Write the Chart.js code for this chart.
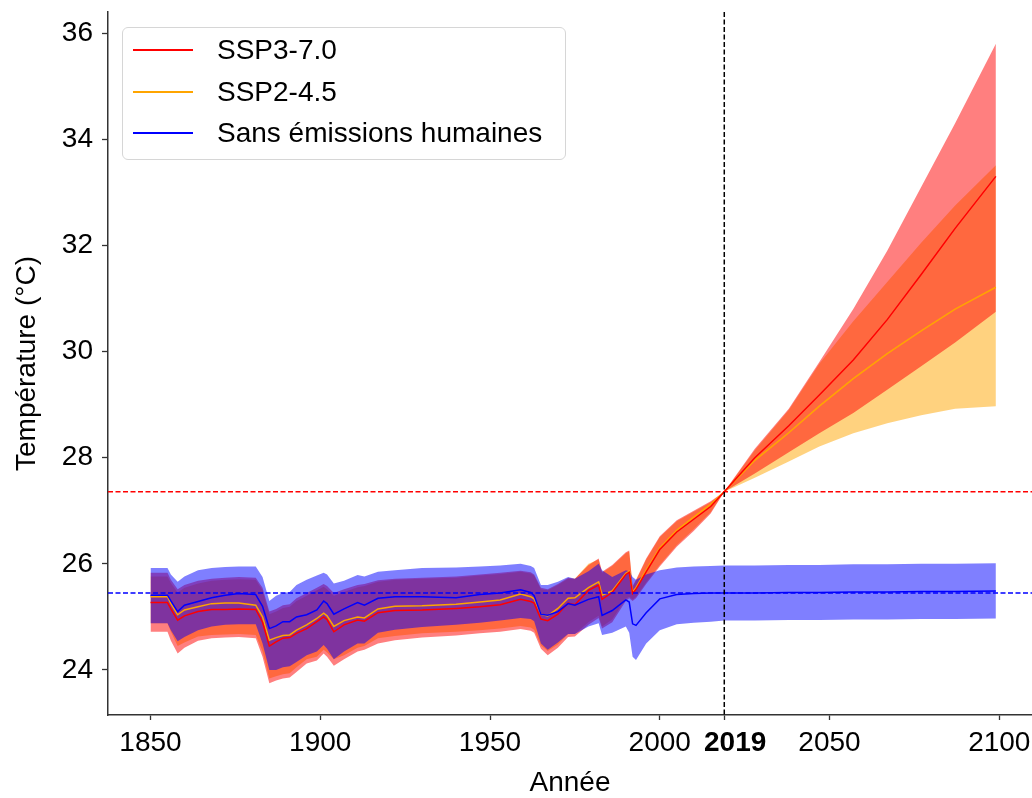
<!DOCTYPE html>
<html>
<head>
<meta charset="utf-8">
<script src="https://cdn.jsdelivr.net/npm/chart.js@4.4.0/dist/chart.umd.min.js"></script>
<style>
  html, body { margin: 0; padding: 0; background: #fff; }
  #wrap { position: relative; width: 1032px; height: 798px; }
  #legend {
    position: absolute; left: 122px; top: 27px; width: 444px; height: 133px;
    box-sizing: border-box; border: 1px solid #d6d6d6; border-radius: 6px;
    background: rgba(255,255,255,0.8);
    font-family: "Liberation Sans", Arial, sans-serif; font-size: 28px; color: #000;
  }
  .row { position: absolute; left: 0; height: 34px; line-height: 34px; white-space: nowrap; }
  .row .swatch { position: absolute; left: 10px; top: 16px; width: 60px; height: 1.5px; }
  .row .txt { position: absolute; left: 94px; top: 0; }
</style>
</head>
<body>
<div id="wrap">
  <canvas id="temp-chart" width="1032" height="798"></canvas>
  <div id="legend"></div>
</div>
<script>

// data
var years = [1850,1855,1856,1858,1860,1864,1868,1872,1876,1881,
             1883,1885,1887,1889,1891,1893,1896,1899,1901,1902,
             1904,1907,1911,1913,1917,1922,1930,1940,1947,1953,
             1959,1962,1963,1965,1967,1970,1973,1975,1979,1982,
             1983,1986,1990,1991,1992,1993,1996,2000,2005,2010,
             2015,2019,2028,2038,2047,2057,2067,2077,2087,2099];

var ssp370 = [25.27,25.27,25.15,24.94,25.02,25.10,25.14,25.14,25.15,25.14,
              24.90,24.45,24.53,24.60,24.61,24.69,24.78,24.91,25.00,24.95,
              24.72,24.85,24.94,24.92,25.08,25.12,25.13,25.16,25.19,25.23,
              25.33,25.29,25.26,24.96,24.93,25.05,25.26,25.23,25.50,25.60,
              25.33,25.46,25.80,25.84,25.44,25.52,25.85,26.27,26.60,26.84,
              27.08,27.36,28.00,28.60,29.18,29.84,30.60,31.45,32.32,33.30];
var ssp370Hi = [25.83,25.83,25.70,25.52,25.60,25.68,25.72,25.74,25.75,25.74,
                25.55,25.10,25.15,25.22,25.24,25.35,25.45,25.55,25.62,25.58,
                25.45,25.52,25.60,25.62,25.69,25.72,25.74,25.76,25.80,25.83,
                25.87,25.84,25.80,25.55,25.52,25.62,25.74,25.72,25.98,26.10,
                25.85,25.98,26.22,26.25,25.58,25.70,26.10,26.52,26.82,27.00,
                27.18,27.36,28.17,28.92,29.80,30.80,31.90,33.10,34.30,35.80];
var ssp370Lo = [24.72,24.72,24.55,24.31,24.42,24.55,24.60,24.61,24.62,24.60,
                24.25,23.75,23.80,23.84,23.86,23.96,24.12,24.18,24.31,24.25,
                24.08,24.20,24.35,24.38,24.50,24.56,24.61,24.65,24.69,24.72,
                24.77,24.74,24.70,24.40,24.28,24.42,24.62,24.63,24.85,24.98,
                24.78,24.90,25.30,25.35,25.30,25.35,25.62,25.95,26.32,26.62,
                26.95,27.36,27.70,28.10,28.46,28.84,29.28,29.72,30.17,30.75];

var ssp245 = [25.38,25.38,25.25,25.04,25.13,25.19,25.25,25.26,25.26,25.22,
              25.00,24.56,24.61,24.65,24.66,24.75,24.85,24.97,25.07,25.02,
              24.82,24.93,25.00,24.98,25.15,25.20,25.21,25.24,25.28,25.32,
              25.43,25.38,25.34,25.05,25.02,25.16,25.35,25.36,25.55,25.66,
              25.41,25.49,25.82,25.86,25.47,25.55,25.88,26.30,26.63,26.88,
              27.12,27.36,27.95,28.47,28.97,29.49,29.96,30.39,30.80,31.21];
var ssp245Hi = [25.76,25.76,25.64,25.46,25.55,25.63,25.68,25.70,25.71,25.70,
                25.50,25.05,25.10,25.17,25.19,25.30,25.40,25.50,25.57,25.52,
                25.40,25.47,25.56,25.58,25.66,25.70,25.72,25.74,25.78,25.81,
                25.85,25.82,25.78,25.52,25.50,25.60,25.72,25.72,26.00,26.08,
                25.83,25.96,26.20,26.23,25.56,25.68,26.08,26.50,26.80,26.98,
                27.16,27.36,28.14,28.90,29.77,30.57,31.31,32.05,32.75,33.51];
var ssp245Lo = [24.88,24.88,24.72,24.45,24.52,24.63,24.66,24.67,24.68,24.66,
                24.35,23.84,23.88,23.92,23.94,24.05,24.20,24.25,24.38,24.33,
                24.20,24.28,24.42,24.45,24.60,24.64,24.69,24.72,24.75,24.78,
                24.83,24.80,24.76,24.46,24.36,24.48,24.68,24.68,24.90,25.02,
                24.82,24.95,25.34,25.38,25.33,25.38,25.65,25.98,26.35,26.65,
                26.97,27.36,27.62,27.93,28.21,28.46,28.65,28.80,28.92,28.97];

var natural = [25.41,25.41,25.30,25.10,25.22,25.29,25.36,25.41,25.44,25.42,
               25.20,24.78,24.83,24.91,24.91,25.00,25.04,25.13,25.30,25.25,
               25.05,25.15,25.27,25.22,25.35,25.38,25.38,25.36,25.42,25.45,
               25.51,25.46,25.40,25.05,25.03,25.10,25.25,25.22,25.33,25.38,
               25.03,25.12,25.32,25.28,24.87,24.84,25.08,25.34,25.42,25.44,
               25.45,25.45,25.45,25.46,25.46,25.47,25.47,25.48,25.48,25.49];
var naturalHi = [25.92,25.92,25.80,25.66,25.76,25.88,25.92,25.94,25.95,25.95,
                 25.75,25.30,25.40,25.45,25.47,25.60,25.70,25.78,25.83,25.80,
                 25.63,25.68,25.79,25.76,25.85,25.88,25.92,25.93,25.95,25.97,
                 26.00,25.96,25.92,25.60,25.60,25.66,25.75,25.72,25.86,26.00,
                 25.88,25.75,25.88,25.86,25.75,25.70,25.80,25.88,25.93,25.95,
                 25.96,25.97,25.97,25.98,25.98,25.99,25.99,26.00,26.00,26.01];
var naturalLo = [24.88,24.88,24.75,24.54,24.62,24.75,24.82,24.85,24.86,24.86,
                 24.50,24.00,24.00,24.05,24.07,24.15,24.28,24.35,24.47,24.40,
                 24.20,24.35,24.50,24.50,24.70,24.76,24.81,24.85,24.89,24.93,
                 24.98,24.96,24.92,24.50,24.38,24.52,24.68,24.68,24.82,24.88,
                 24.66,24.70,24.82,24.70,24.25,24.19,24.50,24.75,24.86,24.89,
                 24.91,24.93,24.93,24.94,24.94,24.95,24.95,24.96,24.96,24.97];

var refSsp = 27.36;      // red dashed level
var refNatural = 25.45;  // blue dashed level
var yearNow = 2019;
var xTicks = [1850, 1900, 1950, 2000, 2019, 2050, 2100];
var yTicks = [24, 26, 28, 30, 32, 34, 36];

var FONT = '"Liberation Sans", Arial, sans-serif';
Chart.defaults.font.family = FONT;
Chart.defaults.font.size = 28;
Chart.defaults.color = '#000';

function pts(arr){
    return years.map(function(yr, i){ return {x: yr, y: arr[i]}; });
}

function band(hi, lo, color, order){
    return [
      {label: '', data: pts(hi), borderWidth: 0, pointRadius: 0, fill: '+1', backgroundColor: color, order: order},
      {label: '', data: pts(lo), borderWidth: 0, pointRadius: 0, fill: false, order: order}
    ];
}

function line(label, arr, color, order){
    return {label: label, data: pts(arr), borderColor: color, backgroundColor: color,
            borderWidth: 1.5, pointRadius: 0, fill: false, order: order};
}

var series = [
    line("SSP3-7.0", ssp370, "#ff0000", 2),
    line("SSP2-4.5", ssp245, "#ffa500", 3),
    line("Sans émissions humaines", natural, "#0000ff", 1)
];

var datasets = series
    .concat(band(ssp245Hi, ssp245Lo, "rgba(255,165,0,0.5)", 30))
    .concat(band(ssp370Hi, ssp370Lo, "rgba(255,0,0,0.5)", 20))
    .concat(band(naturalHi, naturalLo, "rgba(0,0,255,0.5)", 10));

// dashed reference lines, placed through the scales
var refLines = {
    id: 'refLines',
    afterDatasetsDraw: function(chart){
        var ctx = chart.ctx, a = chart.chartArea;
        var xs = chart.scales.x, ys = chart.scales.y;
        ctx.save();
        ctx.lineWidth = 1.5;
        ctx.setLineDash([5, 2.5]);

        var yr = ys.getPixelForValue(refSsp);
        ctx.strokeStyle = '#ff0000';
        ctx.beginPath(); ctx.moveTo(a.left, yr); ctx.lineTo(a.right, yr); ctx.stroke();

        var yb = ys.getPixelForValue(refNatural);
        ctx.strokeStyle = '#0000ff';
        ctx.beginPath(); ctx.moveTo(a.left, yb); ctx.lineTo(a.right, yb); ctx.stroke();

        var xv = xs.getPixelForValue(yearNow);
        ctx.strokeStyle = '#000000';
        ctx.beginPath(); ctx.moveTo(xv, a.top); ctx.lineTo(xv, a.bottom); ctx.stroke();
        ctx.restore();
    }
};

var chart = new Chart(document.getElementById("temp-chart"), {
    type: 'line',
    data: { datasets: datasets },
    options: {
        responsive: false,
        animation: false,
        devicePixelRatio: 1,
        layout: { padding: { top: 12, left: 0, right: 0, bottom: 0 } },
        plugins: {
            legend: { display: false },
            tooltip: { enabled: false },
            filler: { propagate: false }
        },
        elements: { line: { tension: 0 } },
        scales: {
            x: {
                type: 'linear',
                min: 1837.48,
                max: 2109.64,
                afterBuildTicks: function(s){ s.ticks = xTicks.map(function(v){ return {value: v}; }); },
                afterFit: function(s){ s.height = 83; s.paddingLeft = 0; s.paddingRight = 0; },
                ticks: {
                    autoSkip: false,
                    maxRotation: 0,
                    padding: 6,
                    color: '#000',
                    // the bold 2019 label sits a little to the right of its tick
                    callback: function(v){ return v === yearNow ? '\u2002\u00a0' + v : String(v); },
                    font: function(c){
                        return {family: FONT, size: 28,
                                weight: (c.tick && c.tick.value === yearNow) ? 'bold' : 'normal'};
                    }
                },
                grid: { drawOnChartArea: false, drawTicks: true, tickLength: 5, tickColor: '#333', tickWidth: 1.3 },
                border: { display: true, color: '#333', width: 1.5 },
                title: { display: true, text: 'Année', color: '#000',
                         font: { family: FONT, size: 28, lineHeight: 1 }, padding: { top: 0, bottom: 1 } }
            },
            y: {
                type: 'linear',
                min: 23.152,
                max: 36.396,
                afterBuildTicks: function(s){ s.ticks = yTicks.map(function(v){ return {value: v}; }); },
                afterFit: function(s){ s.width = 108; s.paddingTop = 0; s.paddingBottom = 0; },
                ticks: {
                    padding: 9,
                    color: '#000',
                    callback: function(v){ return String(v); },
                    font: { family: FONT, size: 28 }
                },
                grid: { drawOnChartArea: false, drawTicks: true, tickLength: 6, tickColor: '#333', tickWidth: 1.3 },
                border: { display: true, color: '#333', width: 1.5 },
                title: { display: true, text: 'Température (°C)', color: '#000',
                         font: { family: FONT, size: 28, lineHeight: 1 }, padding: { top: 13, bottom: 0 } }
            }
        }
    },
    plugins: [refLines]
});

// legend box, built from the line datasets
var legendBox = document.getElementById("legend");
var rowCenters = [22, 64, 105];
series.forEach(function(ds, i){
    var row = document.createElement("div");
    row.className = "row";
    row.style.top = (rowCenters[i] - 17) + "px";
    row.innerHTML = '<span class="swatch" style="background:' + ds.borderColor + '"></span>' +
                    '<span class="txt">' + ds.label + '</span>';
    legendBox.appendChild(row);
});

</script>
</body>
</html>
